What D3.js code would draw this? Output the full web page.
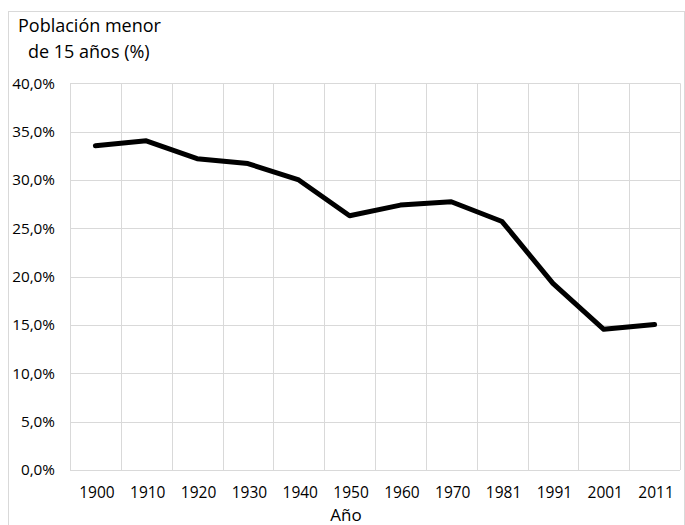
<!DOCTYPE html>
<html><head><meta charset="utf-8">
<script src="https://cdn.jsdelivr.net/npm/d3@7"></script>
<style>body{margin:0;background:#fff}svg{display:block}text{font-family:"Open Sans",sans-serif;fill:#000}</style>
</head><body><svg id="c" width="685" height="525"></svg>
<script>
const years = ["1900","1910","1920","1930","1940","1950","1960","1970","1981","1991","2001","2011"];
const values = [33.55,34.05,32.2,31.7,30.0,26.3,27.4,27.75,25.7,19.3,14.55,15.05];
const yTicks = [0,5,10,15,20,25,30,35,40];
const titleLines = ["Población menor","de 15 años (%)"];
const xTitle = "Año";

const svg = d3.select("#c");
const L=70,R=680,T=83.3,B=470;
svg.append("rect").attr("x",8.5).attr("y",11.5).attr("width",676).attr("height",530).attr("fill","#fff").attr("stroke","#d9d9d9");
const x = d3.scaleBand().domain(years).range([L,R]);
const y = d3.scaleLinear().domain([0,40]).range([B,T]);

const g = svg.append("g");
g.selectAll(".h").data(yTicks).join("line").attr("x1",L).attr("x2",R)
 .attr("y1",d=>Math.round(y(d))+0.5).attr("y2",d=>Math.round(y(d))+0.5).attr("stroke","#d9d9d9");
const bounds = years.map(d=>x(d)).concat([R]);
g.selectAll(".v").data(bounds).join("line").attr("y1",T).attr("y2",B)
 .attr("x1",d=>Math.round(d)+0.5).attr("x2",d=>Math.round(d)+0.5).attr("stroke","#d9d9d9");

const fmt = d => d3.format(".1f")(d).replace(".",",")+"%";
svg.append("g").selectAll("text").data(yTicks).join("text")
 .attr("x",55).attr("y",d=>y(d)).attr("dy","0.35em").attr("text-anchor","end")
 .attr("font-size",15.3).text(fmt);
svg.append("g").selectAll("text").data(years).join("text")
 .attr("x",d=>x(d)+x.bandwidth()/2+1.5).attr("y",498).attr("text-anchor","middle")
 .attr("font-size",15.5).text(d=>d);

svg.append("path").datum(values)
 .attr("d",d3.line().x((d,i)=>x(years[i])+x.bandwidth()/2).y(d=>y(d)))
 .attr("fill","none").attr("stroke","#000").attr("stroke-width",5).attr("stroke-linejoin","round").attr("stroke-linecap","round");

svg.append("text").attr("x",18).attr("y",32).attr("font-size",18).text(titleLines[0]);
svg.append("text").attr("x",28).attr("y",58).attr("font-size",18).text(titleLines[1]);
svg.append("text").attr("x",346).attr("y",521).attr("text-anchor","middle").attr("font-size",17).text(xTitle);
</script></body></html>
